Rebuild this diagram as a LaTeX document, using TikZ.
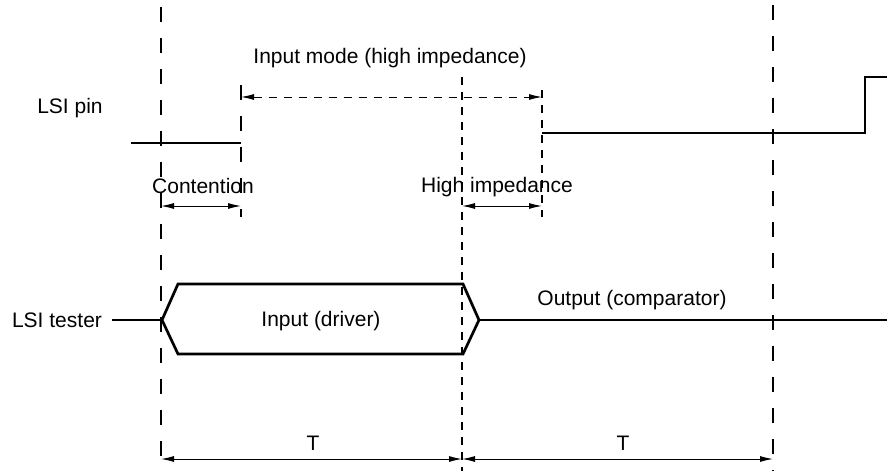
\documentclass[tikz,border=0pt]{standalone}
\usepackage{fontspec}
\setmainfont{Liberation Sans}
\usetikzlibrary{arrows.meta}
\begin{document}
\begin{tikzpicture}[x=1pt,y=-1pt,
  wave/.style={line width=2.7pt, line join=miter},
  longdash/.style={line width=1.3pt, dash pattern=on 15pt off 16pt},
  shortdash/.style={line width=1.3pt, dash pattern=on 8pt off 7pt},
  dim/.style={line width=1pt, {Latex[length=13pt,width=6pt]}-{Latex[length=13pt,width=6pt]}},
  lbl/.style={font=\fontsize{21}{25}\selectfont, inner sep=0pt}]
\useasboundingbox (0,0) rectangle (887,471);
% guide lines
\coordinate (g1t) at (161,7);   \coordinate (g1b) at (161,471);
\coordinate (g2t) at (241,85);  \coordinate (g2b) at (241,217);
\coordinate (g3t) at (462,77);  \coordinate (g3b) at (462,471);
\coordinate (g4t) at (542,90);  \coordinate (g4b) at (542,217);
\coordinate (g5t) at (773,5);   \coordinate (g5b) at (773,471);
\draw[longdash] (g1t) -- (g1b);
\draw[longdash] (g2t) -- (g2b);
\draw[shortdash] (g3t) -- (g3b);
\draw[shortdash] (g4t) -- (g4b);
\draw[longdash] (g5t) -- (g5b);
% labels
\node[lbl] (pin) at (70,108) {LSI pin};
\node[lbl] (tester) at (57,320) {LSI tester};
\node[lbl] (mode) at (390,58) {Input mode (high impedance)};
\node[lbl] (cont) at (203,186) {Contention};
\node[lbl] (hiz) at (497,187) {High impedance};
\node[lbl] (drv) at (321,321) {Input (driver)};
\node[lbl] (cmp) at (632,300) {Output (comparator)};
\node[lbl] (t1) at (313,443) {T};
\node[lbl] (t2) at (623,443) {T};
% LSI pin waveform
\coordinate (p0) at (131,143); \coordinate (p1) at (241,143);
\coordinate (p2) at (542,133); \coordinate (p3) at (865,133);
\coordinate (p4) at (865,77);  \coordinate (p5) at (887,77);
\draw[wave] (p0) -- (p1);
\draw[wave] (p2) -- (p3) -- (p4) -- (p5);
% LSI tester waveform
\coordinate (s0) at (112,320);
\coordinate (h1) at (162,320); \coordinate (h2) at (178,284);
\coordinate (h3) at (463,284); \coordinate (h4) at (479,320);
\coordinate (h5) at (463,354); \coordinate (h6) at (178,354);
\coordinate (s1) at (887,320);
\draw[wave] (s0) -- (h1);
\draw[wave] (h1) -- (h2) -- (h3) -- (h4) -- (h5) -- (h6) -- cycle;
\draw[wave] (h4) -- (s1);
% dimension arrows
\coordinate (m0) at (241,97);  \coordinate (m1) at (542,97);
\draw[dim, dash pattern=on 8pt off 7pt] (m0) -- (m1);
\coordinate (c0) at (161,206); \coordinate (c1) at (241,206);
\draw[dim] (c0) -- (c1);
\coordinate (z0) at (462,206); \coordinate (z1) at (542,206);
\draw[dim] (z0) -- (z1);
\coordinate (b0) at (161,459); \coordinate (b1) at (462,459); \coordinate (b2) at (773,459);
\draw[dim] (b0) -- (b1);
\draw[dim] (b1) -- (b2);
\end{tikzpicture}
\end{document}
